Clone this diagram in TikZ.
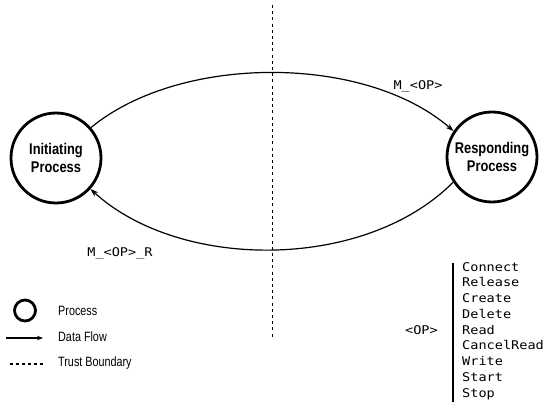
\documentclass[tikz,border=0pt]{standalone}
\usepackage{fontspec}
\setmainfont{Liberation Sans}
\newfontfamily\condfont[FakeStretch=0.83]{Liberation Sans}
\newfontfamily\legfont[FakeStretch=0.8]{Liberation Sans}
\newfontfamily\monofont[FakeStretch=1.13]{DejaVu Sans Mono}
\usetikzlibrary{arrows.meta}
\tikzset{
  proc/.style={circle, draw, line width=2.8pt, minimum size=90pt, inner sep=0pt, align=center,
    font={\condfont\bfseries\fontsize{15.5}{18}\selectfont}},
  flow/.style={line width=1.2pt, -{Stealth[length=8pt,width=5.5pt]}},
  trust/.style={line width=1.4pt, dash pattern=on 3pt off 3.2pt},
  lbl/.style={font={\monofont\fontsize{12}{15.75}\selectfont}, inner sep=0pt},
  leg/.style={font={\legfont\fontsize{13.5}{16}\selectfont}, anchor=west, inner sep=0pt},
}
\begin{document}
\begin{tikzpicture}[x=1pt,y=-1pt]
\useasboundingbox (0,0) rectangle (546,406);
% trust boundary
\coordinate (tbtop) at (272.7,5);
\coordinate (tbbot) at (272.7,338);
\draw[trust] (tbtop) -- (tbbot);
% processes
\node[proc] (L) at (56,158) {Initiating\\Process};
\node[proc] (R) at (492,157) {Responding\\Process};
% flows
\draw[flow] (L.41) .. controls (180,54) and (365,54) .. (R.146);
\draw[flow] (R.213) .. controls (365,271) and (180,271) .. (L.318);
\node[lbl] (m1) at (418,86) {M\_<OP>};
\node[lbl] (m2) at (120,253) {M\_<OP>\_R};
% op list
\node[lbl, anchor=east] (op) at (438,330) {<OP>};
\coordinate (bart) at (453,263);
\coordinate (barb) at (453,402);
\draw[line width=1.3pt] (bart) -- (barb);
\node[lbl, anchor=west, align=left] (ops) at (462,331) {Connect\\Release\\Create\\Delete\\Read\\CancelRead\\Write\\Start\\Stop};
% legend
\node[circle, draw, line width=2.8pt, minimum size=21pt, inner sep=0pt] (lc) at (25,310.5) {};
\node[leg] (lt1) at (58,311) {Process};
\coordinate (la1) at (6,338);
\coordinate (la2) at (43,338);
\draw[line width=1.1pt, -{Stealth[length=6pt,width=4.5pt]}] (la1) -- (la2);
\node[leg] (lt2) at (58,337) {Data Flow};
\coordinate (ld1) at (10,364);
\coordinate (ld2) at (44,364);
\draw[line width=1.1pt, dash pattern=on 3pt off 3pt] (ld1) -- (ld2);
\node[leg] (lt3) at (58,363) {Trust Boundary};
\end{tikzpicture}
\end{document}
